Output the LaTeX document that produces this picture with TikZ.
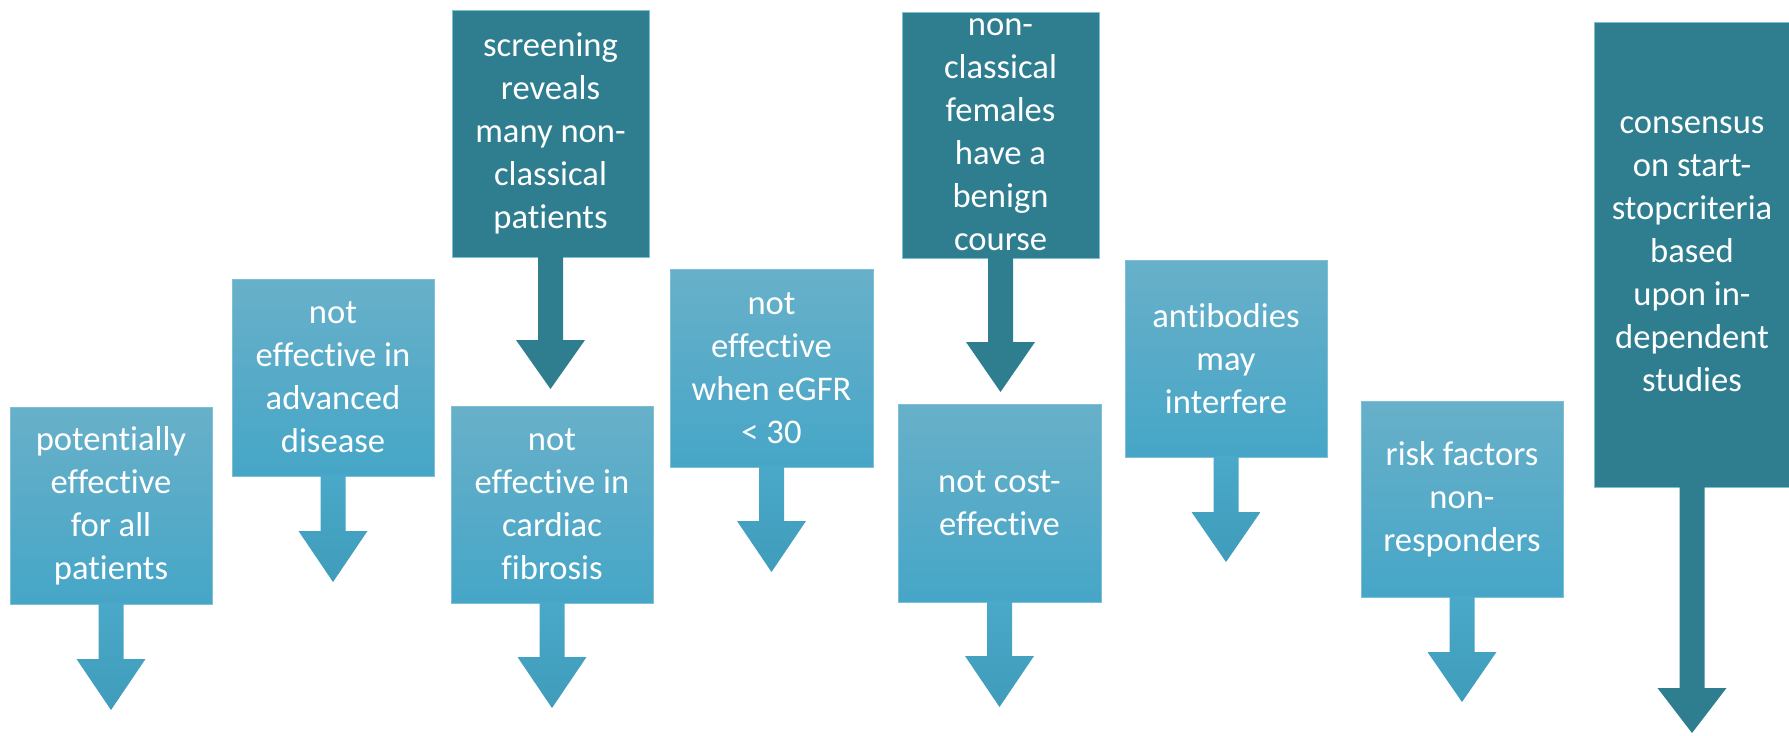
\documentclass[tikz,border=0pt]{standalone}
\usepackage{fontspec}
\setmainfont{Carlito}[Ligatures={NoCommon}]
\usetikzlibrary{calc}
\definecolor{darkteal}{RGB}{46,126,144}
\definecolor{lighttop}{RGB}{104,176,201}
\definecolor{lightbot}{RGB}{70,166,199}
\definecolor{arrtop}{RGB}{74,168,200}
\definecolor{arrbot}{RGB}{63,156,187}
\definecolor{edgeblue}{RGB}{125,192,214}
\newcommand\blockarr[4]{%
  \path[#4] ($(#1.south)+(-12.5,-1)$) -- ++(0,#2+1) -- ++(-22,0)
    -- ($(#1.south)+(0,#2+#3)$) coordinate (#1tip)
    -- ($(#1.south)+(34.5,#2)$) -- ++(-22,0) -- ++(0,-#2-1) -- cycle;}
\begin{document}
\begin{tikzpicture}[x=0.5pt,y=-0.5pt,
  boxbase/.style={rectangle, outer sep=0pt, inner sep=2pt, align=center,
    text=white, draw=edgeblue, line width=0.5pt,
    font=\fontsize{17.3}{21.5}\selectfont},
  lightbox/.style={boxbase, top color=lighttop, bottom color=lightbot},
  darkbox/.style={boxbase, fill=darkteal},
  lightarr/.style={top color=arrtop, bottom color=arrbot, draw=none},
  darkarr/.style={fill=darkteal, draw=none}]
\useasboundingbox (0,0) rectangle (1789,735);

\node[lightbox, minimum width=101pt, minimum height=98.5pt] (b1) at (111,505.5)
  {potentially\\effective\\for all\\patients};
\node[lightbox, minimum width=101pt, minimum height=98.5pt] (b2) at (333,377.5)
  {not\\effective in\\advanced\\disease};
\node[darkbox, minimum width=98.5pt, minimum height=123.5pt] (b3) at (550.5,133.5)
  {screening\\reveals\\many non-\\classical\\patients};
\node[lightbox, minimum width=101pt, minimum height=98.5pt] (b4) at (552,504.5)
  {not\\effective in\\cardiac\\fibrosis};
\node[lightbox, minimum width=101.5pt, minimum height=99pt] (b5) at (771.5,368)
  {not\\effective\\when eGFR\\< 30};
\node[darkbox, minimum width=98.5pt, minimum height=123pt] (b6) at (1000.5,135)
  {non-\\classical\\females\\have a\\benign\\course};
\node[lightbox, minimum width=101.5pt, minimum height=99pt] (b7) at (999.5,503)
  {not cost-\\effective};
\node[lightbox, minimum width=101pt, minimum height=98.5pt] (b8) at (1226,358.5)
  {antibodies\\may\\interfere};
\node[lightbox, minimum width=101pt, minimum height=98pt] (b9) at (1462,499)
  {risk factors\\non-\\responders};
\node[darkbox, minimum width=98pt, minimum height=232.5pt] (b10) at (1692,254.5)
  {consensus\\on start-\\stopcriteria\\based\\upon in-\\dependent\\studies};

\blockarr{b1}{55}{51}{lightarr}
\blockarr{b2}{55}{51}{lightarr}
\blockarr{b3}{83}{49}{darkarr}
\blockarr{b4}{54}{51}{lightarr}
\blockarr{b5}{54}{51}{lightarr}
\blockarr{b6}{84}{50}{darkarr}
\blockarr{b7}{54}{51}{lightarr}
\blockarr{b8}{55}{50}{lightarr}
\blockarr{b9}{55}{50}{lightarr}
\blockarr{b10}{201}{45}{darkarr}
\end{tikzpicture}
\end{document}
